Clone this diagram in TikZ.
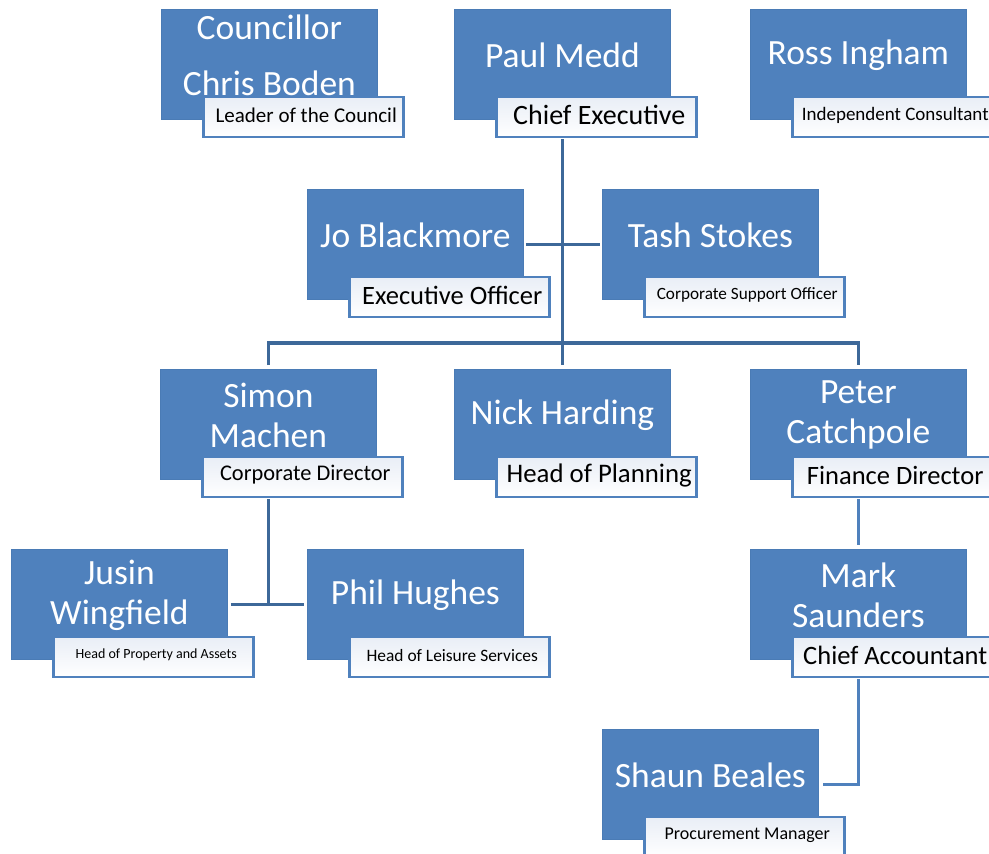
\documentclass[tikz,border=0pt]{standalone}
\usepackage{fontspec}
\setmainfont{Carlito}
\definecolor{boxblue}{HTML}{4F81BD}
\definecolor{boxedge}{HTML}{4A7BB5}
\definecolor{linedark}{HTML}{3D6899}
\definecolor{linelight}{HTML}{4F81BD}
\definecolor{roletint}{HTML}{E9EEF6}
\tikzset{
  bluebox/.style={fill=boxblue, draw=boxedge, line width=0.8pt, minimum width=216pt, minimum height=110pt, anchor=north west, inner sep=0pt},
  namet/.style={text=white, align=center, inner sep=0pt},
  rolebox/.style={draw=boxblue, line width=2.5pt, top color=roletint, bottom color=white, minimum width=200pt, minimum height=40pt, anchor=north west, inner sep=0pt},
  roletext/.style={text=black, inner sep=0pt},
  conn/.style={draw=linedark, line width=3.5pt},
  connlight/.style={draw=linelight, line width=3.2pt}
}
% id, x, y, name, role, role font size, name line spacing
\newcommand{\personbox}[7]{%
  \node[bluebox] (#1) at (#2,#3) {};
  \node[namet, font=\fontsize{35.5}{#7}\selectfont] (#1n) at ([yshift=-46pt]#1.north) {#4};
  \node[rolebox] (#1r) at ([xshift=41pt,yshift=24pt]#1.south west) {};
  \node[roletext, font=\fontsize{#6}{#6}\selectfont] (#1t) at ([xshift=3pt,yshift=2pt]#1r.center) {#5};
}
\begin{document}
\begin{tikzpicture}[x=1pt,y=-1pt]
\useasboundingbox (0,0) rectangle (989,854);
\fill[white] (0,0) rectangle (989,854);

\personbox{cb}{161}{9}{Councillor\\Chris Boden}{Leader of the Council}{21}{56}
\personbox{pm}{454}{9}{Paul Medd}{Chief Executive}{28}{40}
\personbox{ri}{750}{9}{Ross Ingham}{Independent Consultant}{19}{40}
\personbox{jb}{307}{189}{Jo Blackmore}{Executive Officer}{26.5}{40}
\personbox{ts}{602}{189}{Tash Stokes}{Corporate Support Officer}{17.2}{40}
\personbox{sm}{160}{369}{Simon\\Machen}{Corporate Director}{22.4}{40}
\personbox{nh}{454}{369}{Nick Harding}{Head of Planning}{26.8}{40}
\personbox{pc}{750}{369}{Peter\\Catchpole}{Finance Director}{26.5}{40}
\personbox{jw}{11}{549}{Jusin\\Wingfield}{Head of Property and Assets}{14}{40}
\personbox{ph}{307}{549}{Phil Hughes}{Head of Leisure Services}{17.4}{40}
\personbox{ms}{750}{549}{Mark\\Saunders}{Chief Accountant}{26.5}{40}
\personbox{sb}{602}{729}{Shaun Beales}{Procurement Manager}{18}{40}

\coordinate (bus) at (563,343);
% Chief Executive tree
\draw[conn] ([yshift=-1pt]pm.south |- pmr.south) -- ([yshift=4pt]nh.north);
\draw[conn, shorten <=2pt, shorten >=2pt] (jb.east) -- (ts.west);
\draw[conn] ([yshift=4pt]sm.north) |- (bus) -| ([yshift=4pt]pc.north);
% Corporate Director
\draw[conn] ([yshift=-1pt]sm.south |- smr.south) -- (sm.south |- jw.east);
\draw[conn, shorten <=3pt, shorten >=3pt] (jw.east) -- (ph.west);
% Finance
\draw[connlight] ([yshift=-1pt]pc.south |- pcr.south) -- ([yshift=4pt]ms.north);
\draw[connlight] ([yshift=-1pt]ms.south |- msr.south) |- ([xshift=4pt]sb.east);
\end{tikzpicture}
\end{document}
